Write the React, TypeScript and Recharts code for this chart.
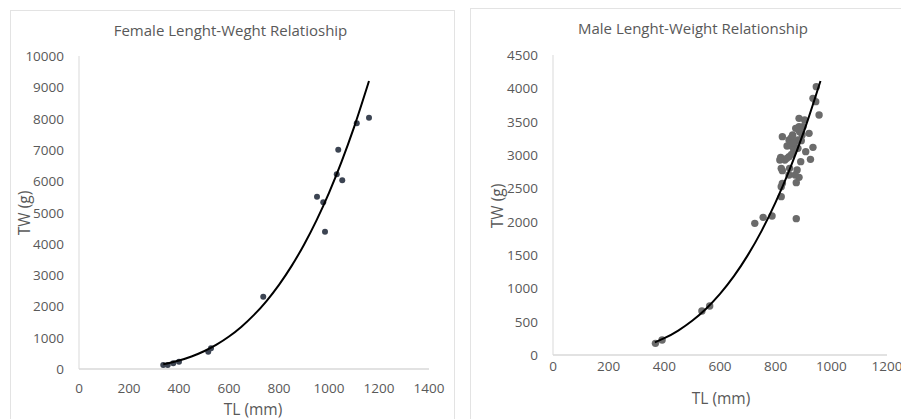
import React from 'react';
import { ScatterChart, Scatter, XAxis, YAxis } from 'recharts';

// Female data (TL mm, TW g)
const femaleTL = [337, 355, 377, 400, 517, 528, 737, 952, 977, 984, 1031, 1037, 1053, 1111, 1160];
const femaleTW = [128, 128, 181, 234, 553, 660, 2310, 5505, 5325, 4387, 6220, 7006, 6028, 7850, 8030];
// Female power trendline
const femaleCurveTL = [337, 400, 450, 500, 550, 600, 650, 700, 750, 800, 850, 900, 950, 1000, 1050, 1100, 1160];
const femaleCurveTW = [150, 271, 400, 567, 778, 1038, 1353, 1729, 2172, 2689, 3287, 3972, 4750, 5630, 6616, 7718, 9200];

// Male data
const maleTL = [368, 392, 535, 563, 725, 755, 787, 874, 820, 820, 824, 874, 884, 877, 848, 824, 850, 890, 925, 908, 934, 818, 815, 833, 848, 857, 865, 824, 848, 857, 868, 880, 892, 886, 898, 884, 884, 904, 920, 861, 841, 857, 934, 944, 946, 956, 820, 870, 880, 862, 895, 872, 840];
const maleTW = [175, 225, 660, 735, 1975, 2065, 2085, 2045, 2375, 2525, 2575, 2585, 2665, 2775, 2700, 2765, 2800, 2900, 2935, 3050, 3115, 2965, 2925, 2925, 2975, 3010, 3075, 3275, 3225, 3265, 3185, 3225, 3215, 3350, 3425, 3425, 3550, 3525, 3325, 3300, 3135, 3135, 3850, 3800, 4025, 3600, 2800, 2700, 3100, 3180, 3300, 3400, 2950];
const maleCurveTL = [366, 400, 450, 500, 550, 600, 650, 700, 750, 800, 850, 900, 961];
const maleCurveTW = [190, 252, 367, 513, 695, 917, 1183, 1498, 1866, 2293, 2780, 3335, 4110];

const femaleXTicks = [0, 200, 400, 600, 800, 1000, 1200, 1400];
const femaleYTicks = [0, 1000, 2000, 3000, 4000, 5000, 6000, 7000, 8000, 9000, 10000];
const maleXTicks = [0, 200, 400, 600, 800, 1000, 1200];
const maleYTicks = [0, 500, 1000, 1500, 2000, 2500, 3000, 3500, 4000, 4500];

const zip = (xs: number[], ys: number[]) => xs.map((x, i) => ({ x, y: ys[i] }));

const femalePts = zip(femaleTL, femaleTW);
const femaleCurve = zip(femaleCurveTL, femaleCurveTW);
const malePts = zip(maleTL, maleTW);
const maleCurve = zip(maleCurveTL, maleCurveTW);

const FONT = '"Open Sans", sans-serif';
const TXT = '#595959';
const AX = '#d9d9d9';
const FS = 13.5;

const Empty = () => <g />;

const makeYTick = (axisX: number) => (p: any) => (
  <text x={axisX - 15} y={p.y} textAnchor="end" dominantBaseline="central" fill={TXT} fontSize={FS} fontFamily={FONT}>
    {p.payload.value}
  </text>
);
const makeXTick = (axisY: number, off: number) => (p: any) => (
  <text x={p.x} y={axisY + off} textAnchor="middle" dominantBaseline="central" fill={TXT} fontSize={FS} fontFamily={FONT}>
    {p.payload.value}
  </text>
);

export default function App() {
  return (
    <div style={{ position: 'absolute', left: 0, top: 0, width: 901, height: 419, background: '#fff', overflow: 'hidden' }}>
      <div style={{ position: 'absolute', left: 10, top: 10, width: 445, height: 420, border: '1px solid #e3e3e3', boxSizing: 'border-box' }} />
      <div style={{ position: 'absolute', left: 470, top: 8, width: 440, height: 420, border: '1px solid #e3e3e3', boxSizing: 'border-box' }} />

      <div style={{ position: 'absolute', left: 0, top: 0 }}>
        <ScatterChart width={450} height={419} margin={{ top: 56, right: 21, left: 19, bottom: 20 }}>
          <XAxis type="number" dataKey="x" domain={[0, 1400]} ticks={femaleXTicks} height={30}
            tickLine={false} axisLine={{ stroke: AX, strokeWidth: 1.5 }} tick={makeXTick(369, 19)} interval={0} />
          <YAxis type="number" dataKey="y" domain={[0, 10000]} ticks={femaleYTicks} width={60}
            tickLine={false} axisLine={{ stroke: AX, strokeWidth: 1 }} tick={makeYTick(79)} interval={0} />
          <Scatter data={femalePts} fill="#3c4452" isAnimationActive={false}
            shape={(p: any) => <circle cx={p.cx} cy={p.cy} r={3} fill="#3c4452" />} />
          <Scatter data={femaleCurve} isAnimationActive={false} line={{ stroke: '#000', strokeWidth: 2 }}
            lineJointType="monotoneX" shape={Empty} />
        </ScatterChart>
      </div>

      <div style={{ position: 'absolute', left: 450, top: 0 }}>
        <ScatterChart width={451} height={419} margin={{ top: 55, right: 14, left: 43, bottom: 34 }}>
          <XAxis type="number" dataKey="x" domain={[0, 1200]} ticks={maleXTicks} height={30}
            tickLine={false} axisLine={{ stroke: AX, strokeWidth: 1.5 }} tick={makeXTick(355, 11)} interval={0} />
          <YAxis type="number" dataKey="y" domain={[0, 4500]} ticks={maleYTicks} width={60}
            tickLine={false} axisLine={{ stroke: AX, strokeWidth: 1 }} tick={makeYTick(103)} interval={0} />
          <Scatter data={malePts} fill="#6b6b6b" isAnimationActive={false}
            shape={(p: any) => <circle cx={p.cx} cy={p.cy} r={3.7} fill="#6b6b6b" />} />
          <Scatter data={maleCurve} isAnimationActive={false} line={{ stroke: '#000', strokeWidth: 2 }}
            lineJointType="monotoneX" shape={Empty} />
        </ScatterChart>
      </div>

      <svg width={901} height={419} style={{ position: 'absolute', left: 0, top: 0, pointerEvents: 'none' }}>
        <g fontFamily={FONT} fill={TXT}>
          <text x={230.5} y={30} fontSize={15} textAnchor="middle" dominantBaseline="central">Female Lenght-Weght Relatioship</text>
          <text x={693} y={28} fontSize={15} textAnchor="middle" dominantBaseline="central">Male Lenght-Weight Relationship</text>
          <text x={253} y={409} fontSize={15.5} textAnchor="middle" dominantBaseline="central">TL (mm)</text>
          <text x={721} y={398} fontSize={15.5} textAnchor="middle" dominantBaseline="central">TL (mm)</text>
          <text x={0} y={0} fontSize={15.5} textAnchor="middle" dominantBaseline="central" transform="translate(24,213) rotate(-90)">TW (g)</text>
          <text x={0} y={0} fontSize={15.5} textAnchor="middle" dominantBaseline="central" transform="translate(497,206) rotate(-90)">TW (g)</text>
        </g>
      </svg>
    </div>
  );
}
